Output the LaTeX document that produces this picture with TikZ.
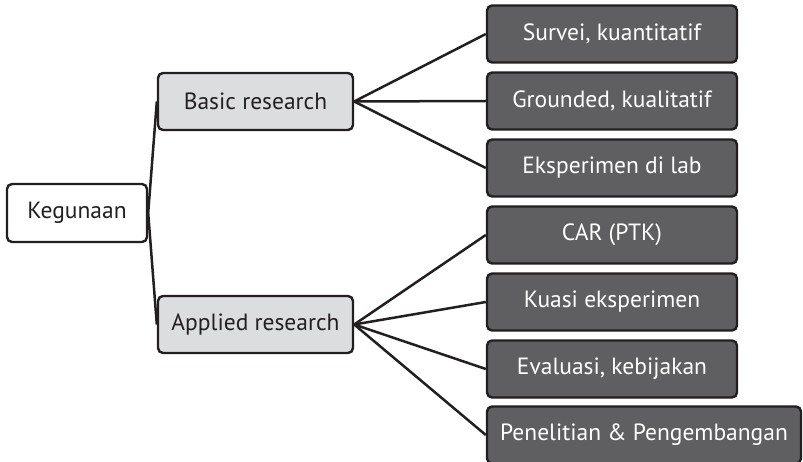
\documentclass[tikz,border=0pt]{standalone}
\usepackage{fontspec}
\setmainfont{PT Sans}
\definecolor{edge}{HTML}{231F20}
\definecolor{lightfill}{HTML}{DCDDDF}
\definecolor{darkfill}{HTML}{5F5F61}
\begin{document}
\begin{tikzpicture}[x=1pt,y=-1pt,
  box/.style={draw=edge, line width=2.4pt, rounded corners=5pt, inner sep=0pt,
    font=\fontsize{23.5}{26}\selectfont, anchor=center},
  rootbox/.style={box, fill=white, text=edge, minimum width=140pt, minimum height=58pt},
  midbox/.style={box, fill=lightfill, text=edge, minimum width=195pt, minimum height=57pt},
  leafbox/.style={box, fill=darkfill, text=white, minimum width=250pt, minimum height=57pt},
  link/.style={draw=edge, line width=2.5pt}]
\useasboundingbox (0,0) rectangle (803,462);

% tree levels: root, two research kinds, their methods
\node[rootbox] (root) at (77,213) {Kegunaan};
\node[midbox] (basic) at (255.5,101.5) {Basic research};
\node[midbox] (applied) at (255.5,324.5) {Applied research};

\node[leafbox] (s1) at (612,34) {Survei, kuantitatif};
\node[leafbox] (s2) at (612,101) {Grounded, kualitatif};
\node[leafbox] (s3) at (612,168) {Eksperimen di lab};
\node[leafbox] (a1) at (612,235) {CAR (PTK)};
\node[leafbox] (a2) at (612,302) {Kuasi eksperimen};
\node[leafbox] (a3) at (612,369) {Evaluasi, kebijakan};
\node[leafbox, minimum width=314pt] (a4) at (644,435) {Penelitian \& Pengembangan};

% branches
\draw[link] (root.east) -- (basic.west);
\draw[link] (root.east) -- (applied.west);
\foreach \t in {s1,s2,s3} \draw[link] (basic.east) -- (\t.west);
\foreach \t in {a1,a2,a3,a4} \draw[link] (applied.east) -- (\t.west);
\end{tikzpicture}
\end{document}
